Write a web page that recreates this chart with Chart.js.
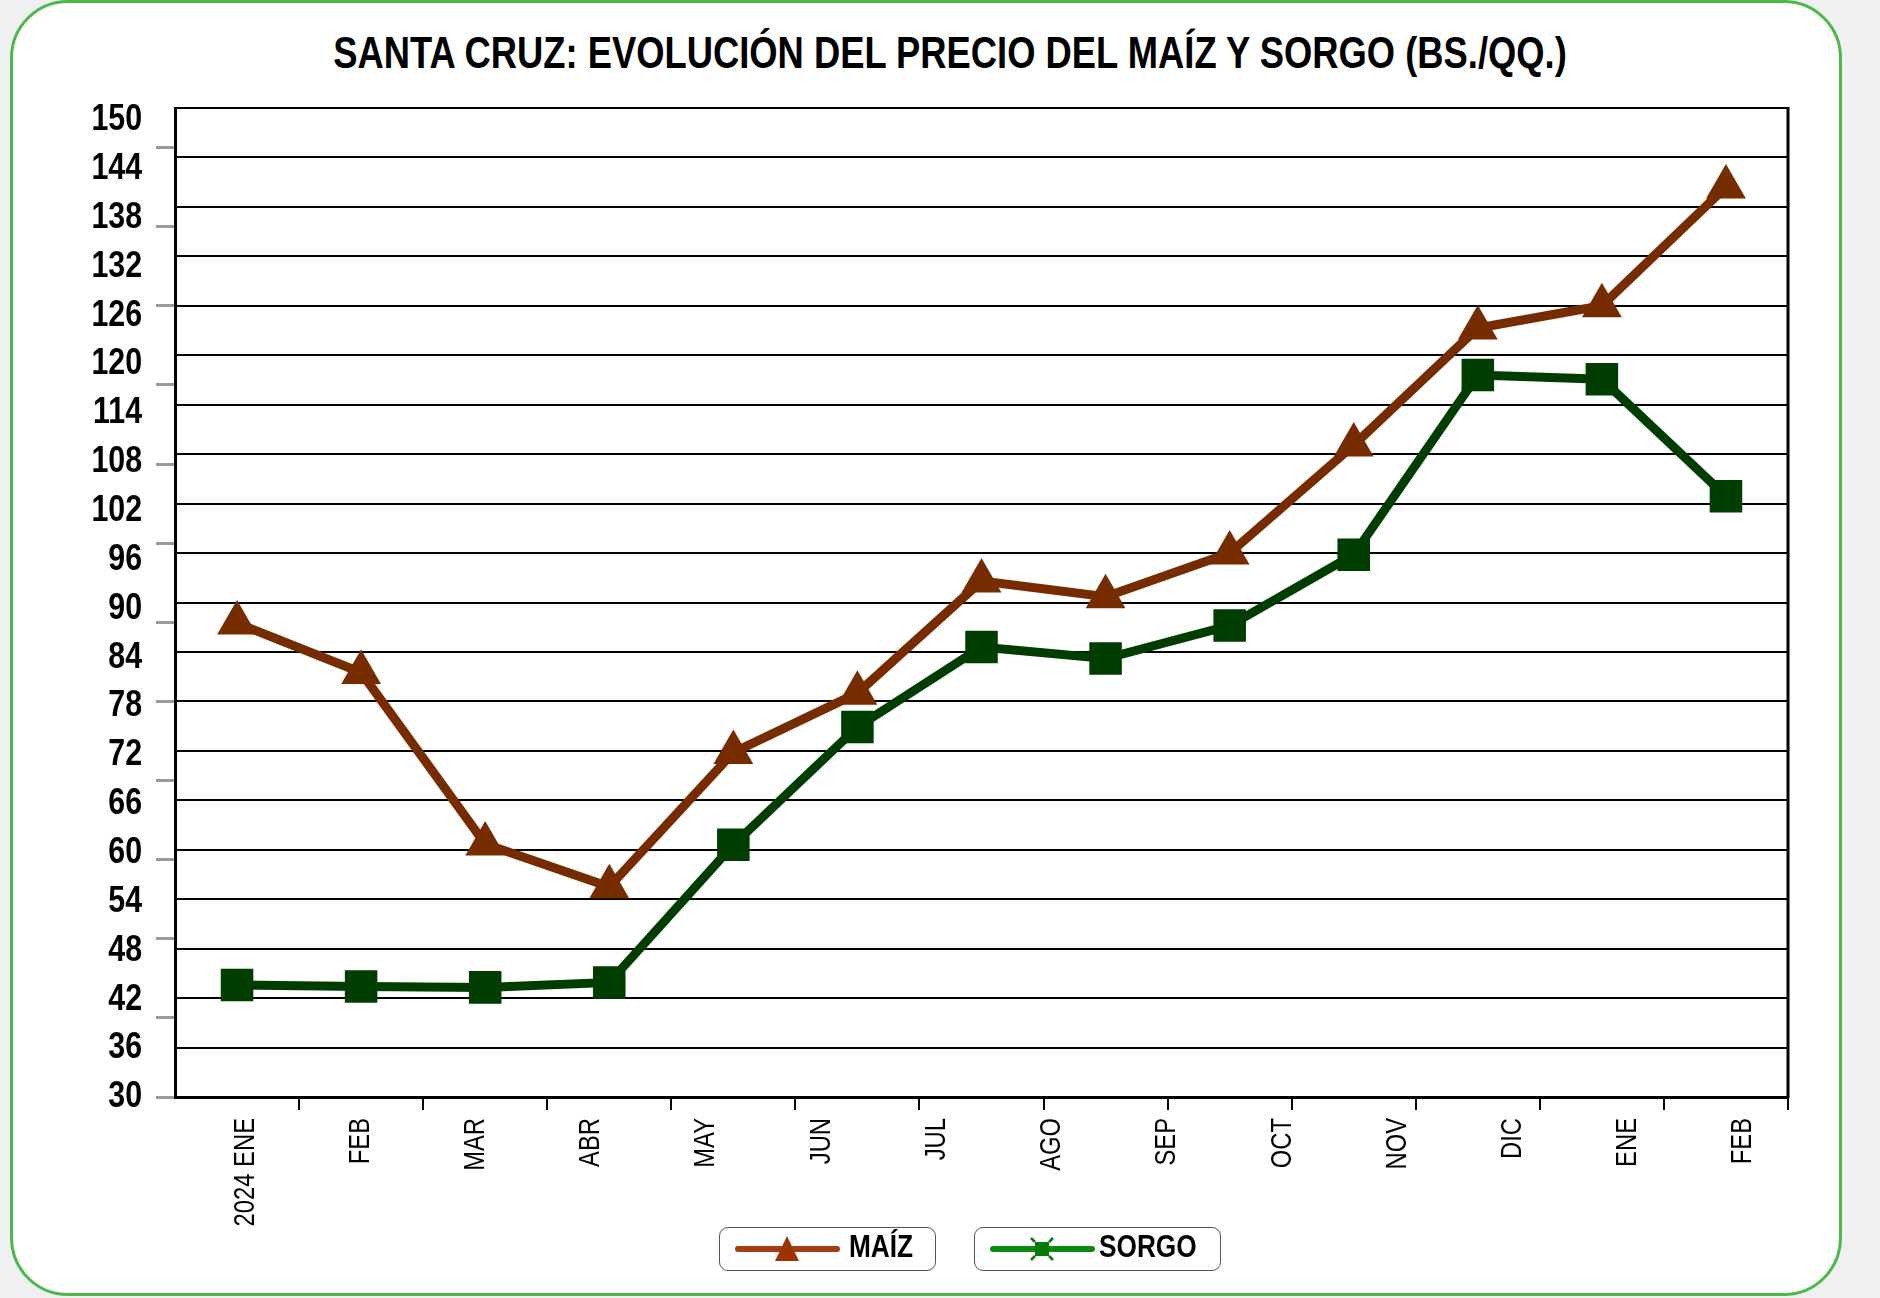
<!DOCTYPE html>
<html>
<head>
<meta charset="utf-8">
<script src="https://cdn.jsdelivr.net/npm/chart.js@4.4.1/dist/chart.umd.min.js"></script>
<style>
  html, body { margin: 0; padding: 0; width: 1880px; height: 1298px; overflow: hidden; background: #f0f0f0; }
  #card { position: absolute; left: 10px; top: 0; width: 1832px; height: 1296px; box-sizing: border-box;
          border: 3px solid #4cb84c; border-radius: 58px; background: #fff; }
  #c { position: absolute; left: 0; top: 0; }
  #title { position: absolute; left: 0; top: 30px; width: 1900px; text-align: center; white-space: nowrap;
           font: bold 45px 'Liberation Sans', Arial, sans-serif; line-height: 45px; color: #000;
           transform: scaleX(0.808); transform-origin: 950px 0; }
  .leg { position: absolute; top: 1227px; height: 44px; box-sizing: border-box; border: 1.5px solid #555;
         border-radius: 9px; background: #fff; }
  .leg svg { position: absolute; left: 0; top: 0; }
  .leg span { position: absolute; top: 0; line-height: 41px; color: #000; white-space: nowrap;
              font: bold 32px 'Liberation Sans', Arial, sans-serif;
              transform: scaleX(0.82); transform-origin: 0 0; }
</style>
</head>
<body>
<div id="card"></div>
<div id="title"></div>
<canvas id="c" width="1880" height="1298"></canvas>
<script>
// ---- data ----
const chartTitle = 'SANTA CRUZ: EVOLUCIÓN DEL PRECIO DEL MAÍZ Y SORGO (BS./QQ.)';
const monthLabels = ['2024 ENE', 'FEB', 'MAR', 'ABR', 'MAY', 'JUN', 'JUL', 'AGO', 'SEP', 'OCT', 'NOV', 'DIC', 'ENE', 'FEB'];
const pointPeriods = ['P01', 'P02', 'P03', 'P04', 'P05', 'P06', 'P07', 'P08', 'P09', 'P10', 'P11', 'P12', 'P13'];
const seriesNames = ['MAÍZ', 'SORGO'];
const maizValues  = [87.5, 81.5, 60.7, 55.5, 71.8, 79.0, 92.6, 90.7, 96.0, 109.1, 123.3, 126.0, 140.4];
const sorgoValues = [43.6, 43.4, 43.3, 43.9, 60.6, 74.9, 84.6, 83.2, 87.2, 95.8, 117.6, 117.1, 102.9];
const yMin = 30, yMax = 150, yStep = 6;
const yLabelMax = 151.47;          // tick-label axis (labels sit slightly compressed vs. grid)
const minorMin = 30, minorMax = 155, minorStep = 10;

// ---- styles ----
const FONT = "'Liberation Sans', Arial, sans-serif";
const maizColor = '#772c00';
const sorgoColor = '#003d00';

document.getElementById('title').textContent = chartTitle;

const rightBorder = {
  id: 'rightBorder',
  afterDatasetsDraw(chart) {
    const { ctx, chartArea: a } = chart;
    ctx.save();
    ctx.strokeStyle = '#000';
    ctx.lineWidth = 3;
    ctx.beginPath();
    ctx.moveTo(a.right, a.top - 1);
    ctx.lineTo(a.right, a.bottom + 1);
    ctx.stroke();
    ctx.restore();
  }
};

// narrow-font emulation: compress tick label text along its reading direction
const narrowLabels = {
  id: 'narrowLabels',
  beforeDraw(chart) {
    const cfg = { yl: { axis: 'x', k: 0.82 }, xl: { axis: 'y', k: 0.82 } };
    Object.keys(cfg).forEach(id => {
      const s = chart.scales[id];
      if (!s || s._narrowPatched) return;
      const orig = s.drawLabels;
      s.drawLabels = function (area) {
        const ctx = this.ctx;
        ctx.save();
        if (cfg[id].axis === 'x') {
          const ax = this.right - this.options.ticks.padding;
          ctx.translate(ax, 0); ctx.scale(cfg[id].k, 1); ctx.translate(-ax, 0);
        } else {
          const ay = this.top + this.options.ticks.padding;
          ctx.translate(0, ay); ctx.scale(1, cfg[id].k); ctx.translate(0, -ay);
        }
        orig.call(this, area);
        ctx.restore();
      };
      s._narrowPatched = true;
    });
  }
};

const chart = new Chart(document.getElementById('c').getContext('2d'), {
  type: 'line',
  data: {
    labels: pointPeriods,
    datasets: [
      {
        label: seriesNames[0], data: maizValues, xAxisID: 'x', yAxisID: 'y',
        borderColor: maizColor, backgroundColor: maizColor, borderWidth: 9,
        pointStyle: 'triangle', pointRadius: 23, pointHoverRadius: 23, pointBorderWidth: 0,
        pointBackgroundColor: maizColor, tension: 0, fill: false
      },
      {
        label: seriesNames[1], data: sorgoValues, xAxisID: 'x', yAxisID: 'y',
        borderColor: sorgoColor, backgroundColor: sorgoColor, borderWidth: 9,
        pointStyle: 'rect', pointRadius: 23, pointHoverRadius: 23, pointBorderWidth: 0,
        pointBackgroundColor: sorgoColor, tension: 0, fill: false
      }
    ]
  },
  options: {
    responsive: false, animation: false, devicePixelRatio: 1,
    layout: { padding: { left: 12, right: 92, top: 108, bottom: 38 } },
    plugins: {
      legend: { display: false },
      tooltip: { enabled: false },
      title: { display: false }
    },
    scales: {
      x: {
        type: 'category', position: 'bottom', weight: 0, offset: true,
        grid: { offset: true, drawOnChartArea: false, drawTicks: true, tickLength: 13, lineWidth: 2,
                color: '#000', tickColor: (c) => c.index === 0 ? 'rgba(0,0,0,0)' : '#000' },
        border: { display: true, color: '#000', width: 3 },
        ticks: { display: false },
        afterFit(s) { s.height = 13; }
      },
      xl: {
        type: 'category', labels: monthLabels, position: 'bottom', weight: 1, offset: true,
        grid: { display: false, drawTicks: false },
        border: { display: false },
        ticks: { autoSkip: false, minRotation: 90, maxRotation: 90, padding: 8, labelOffset: 13, color: '#000',
                 font: { family: FONT, size: 29 } },
        afterFit(s) { s.height = 150; }
      },
      yl: {
        type: 'linear', position: 'left', weight: 2, min: yMin, max: yLabelMax,
        ticks: { stepSize: yStep, includeBounds: false, padding: 33, color: '#000',
                 font: { family: FONT, size: 37, weight: 'bold' } },
        grid: { display: false, drawTicks: false },
        border: { display: false },
        afterFit(s) { s.width = 163; }
      },
      y: {
        type: 'linear', position: 'left', weight: 1, min: yMin, max: yMax,
        ticks: { display: false, stepSize: yStep },
        grid: { color: '#000', lineWidth: 2, drawTicks: false },
        border: { display: true, color: '#000', width: 3 },
        afterFit(s) { s.width = 0; }
      },
      y2: {
        type: 'linear', position: 'left', weight: 0, min: minorMin, max: minorMax,
        ticks: { display: false, stepSize: minorStep, includeBounds: false },
        grid: { drawOnChartArea: false, drawTicks: true, tickLength: 19, color: '#9a9a9a', lineWidth: 3 },
        border: { display: false },
        afterFit(s) { s.width = 0; }
      }
    }
  },
  plugins: [rightBorder, narrowLabels]
});
chart.draw();

// ---- legend (HTML, mirrors dataset labels) ----
const legendBoxes = [
  { left: 719, width: 217, textLeft: 129, line: '#a23d14', mark: 'triangle', markColor: '#9c3300' },
  { left: 974, width: 247, textLeft: 124, line: '#0b8a0b', mark: 'sorgo', markColor: '#077a07' }
];
chart.data.datasets.forEach((ds, i) => {
  const b = legendBoxes[i];
  const div = document.createElement('div');
  div.className = 'leg';
  div.style.left = b.left + 'px';
  div.style.width = b.width + 'px';
  let marker = '';
  if (b.mark === 'triangle') {
    marker = `<polygon points="67,8 79,33 55,33" fill="${b.markColor}"/>`;
  } else {
    marker = `<rect x="60" y="14" width="14" height="14" fill="${b.markColor}"/>` +
      `<path d="M60 14 L56 10 M74 14 L78 10 M60 28 L56 32 M74 28 L78 32" stroke="${b.markColor}" stroke-width="2.5"/>`;
  }
  div.innerHTML = `<svg width="${b.textLeft}" height="44"><line x1="18" y1="21" x2="117" y2="21" stroke="${b.line}" stroke-width="6" stroke-linecap="round"/>${marker}</svg><span style="left:${b.textLeft}px">${ds.label}</span>`;
  document.body.appendChild(div);
});
</script>
</body>
</html>
